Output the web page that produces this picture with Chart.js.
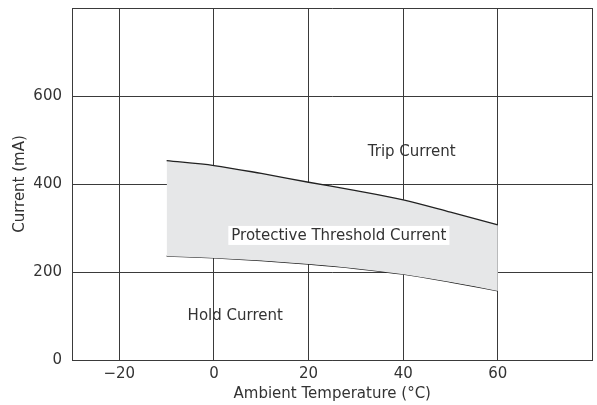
<!DOCTYPE html>
<html>
<head>
<meta charset="utf-8">
<script src="https://cdn.jsdelivr.net/npm/chart.js@4.4.1/dist/chart.umd.min.js"></script>
<style>
html,body{margin:0;padding:0;background:#fff;}
canvas{display:block;}
</style>
</head>
<body>
<canvas id="c" width="597" height="405"></canvas>
<script>
const temperatures = [-10, 0, 10, 20, 30, 40, 50, 60];
const tripCurrent = [453, 442, 424, 404, 385, 364, 336, 307];
const holdCurrent = [236, 232, 226, 218, 208, 195, 177, 157];
const xTicks = [-30, -20, 0, 20, 40, 60, 80];
const yTicks = [0, 200, 400, 600, 800];
const regionLabels = ['Trip Current', 'Protective Threshold Current', 'Hold Current'];
const labelTemps = [41.8, 26.4, 4.5];
const labelCurrents = [473, 282, 100];

const FONT = '"DejaVu Sans", sans-serif';
const TEXT = '#333333';
const GRID = '#3a3a3a';

const labelPlugin = {
  id: 'regionLabels',
  afterDatasetsDraw(chart) {
    const {ctx, scales: {x, y}} = chart;
    ctx.save();
    ctx.font = '15px ' + FONT;
    ctx.textAlign = 'center';
    ctx.textBaseline = 'middle';
    regionLabels.forEach((t, i) => {
      const px = x.getPixelForValue(labelTemps[i]);
      const py = y.getPixelForValue(labelCurrents[i]);
      if (i === 1) {
        const w = ctx.measureText(t).width;
        ctx.fillStyle = '#ffffff';
        ctx.fillRect(px - w / 2 - 3, py - 10, w + 6, 19);
      }
      ctx.fillStyle = TEXT;
      ctx.fillText(t, px, py);
    });
    ctx.restore();
  }
};

new Chart(document.getElementById('c'), {
  type: 'line',
  data: {
    datasets: [
      {
        label: 'Trip Current',
        data: temperatures.map((t, i) => ({x: t, y: tripCurrent[i]})),
        borderColor: '#222222',
        borderWidth: 1.3,
        pointRadius: 0,
        cubicInterpolationMode: 'monotone',
        fill: '+1',
        backgroundColor: '#e6e7e8'
      },
      {
        label: 'Hold Current',
        data: temperatures.map((t, i) => ({x: t, y: holdCurrent[i]})),
        borderColor: '#222222',
        borderWidth: 1.3,
        pointRadius: 0,
        cubicInterpolationMode: 'monotone',
        fill: false
      }
    ]
  },
  options: {
    responsive: false,
    animation: false,
    events: [],
    layout: {padding: {left: 0, right: 4.5, top: 8, bottom: 0}},
    plugins: {legend: {display: false}, tooltip: {enabled: false}},
    scales: {
      x: {
        type: 'linear',
        min: -30,
        max: 80,
        afterBuildTicks: s => { s.ticks = xTicks.map(v => ({value: v})); },
        afterFit: s => { s.height = 45; s.paddingLeft = 0; s.paddingRight = 0; },
        grid: {color: GRID, lineWidth: 1, drawTicks: false},
        border: {color: GRID, width: 1},
        ticks: {
          color: TEXT,
          font: {family: FONT, size: 15},
          padding: 5,
          maxRotation: 0,
          autoSkip: false,
          callback: v => (v === -30 || v === 80) ? '' : (v < 0 ? '\u2212' + Math.abs(v) : String(v))
        },
        title: {
          display: true,
          text: 'Ambient Temperature (°C)',
          color: TEXT,
          font: {family: FONT, size: 15},
          padding: {top: 0, bottom: 2}
        }
      },
      y: {
        type: 'linear',
        min: 0,
        max: 800,
        afterBuildTicks: s => { s.ticks = yTicks.map(v => ({value: v})); },
        afterFit: s => { s.width = 72; s.paddingTop = 0; s.paddingBottom = 0; },
        grid: {color: GRID, lineWidth: 1, drawTicks: false},
        border: {color: GRID, width: 1},
        ticks: {
          color: TEXT,
          font: {family: FONT, size: 15},
          padding: 10,
          callback: v => v === 800 ? '' : String(v)
        },
        title: {
          display: true,
          text: 'Current (mA)',
          color: TEXT,
          font: {family: FONT, size: 15},
          padding: {top: 11, bottom: 0}
        }
      }
    }
  },
  plugins: [labelPlugin]
});
</script>
</body>
</html>
